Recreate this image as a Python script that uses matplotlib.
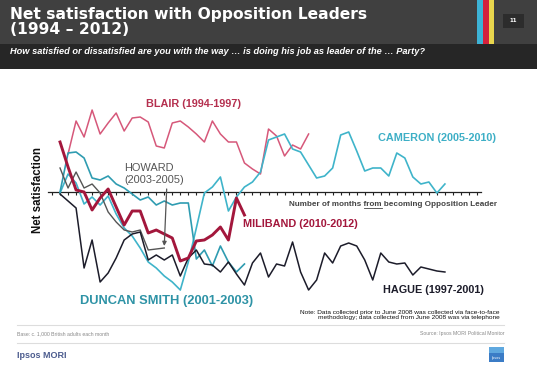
import matplotlib
matplotlib.use('Agg')
import matplotlib.pyplot as plt
from matplotlib.patches import Rectangle

# net satisfaction by month since becoming leader
blair_start = 1
blair = [19, 35.5, 27.5, 41, 29, 34.5, 39.5, 30.5, 37, 37.5, 35, 23, 22, 34.5, 35.5,
         32.5, 29, 25, 35.5, 29, 25, 25, 14.5, 11.5, 9, 31.5, 28, 18, 23.5, 21.5, 29]
cameron = [-0.5, 9, 4.5, -6, -2.5, -6.5, -2, -11, -18, -22, -28, -35, -38, -42, -45,
           -49, -35, -18, -0.5, 2.5, 7.5, -9.5, -2.5, 2.5, 5, 10, 26, 27.5, 29, 21.5,
           20, 13.5, 7, 8, 12, 28.5, 30, 20.5, 10.5, 12, 12, 8, 19.5, 17, 7.5, 4, 5,
           -0.5, 4]
duncan_smith = [0, 19.5, 20, 17, 7, 6, 8, 4, 2, -1, -4, -2.5, -6.5, -4.5, -6.5, -5.5,
                -5.5, -33.5, -29, -37, -27, -35, -40, -36]
miliband = [25, 12.5, 1, 0, -9, -3, 1.5, -7.5, -16.5, -9.5, -9.5, -20.5, -19, -21, -23,
            -34.5, -33, -24.5, -24, -21.5, -17.5, -24, -3, -11.5]
howard = [12, 2, 10, 2, 4, -0.5, -10, -15, -19, -20, -19, -29, -28.5, -28]
hague = [-1, -4.5, -8, -38, -24, -45, -40.5, -33, -24, -21, -20, -34, -31.5, -34, -31.5,
         -42, -33, -29, -36, -36.5, -40, -35, -41, -46.5, -35.5, -30.5, -42.5, -36, -37,
         -25, -40, -49, -44, -30.5, -35.5, -27, -25.5, -27, -34, -44, -30.5, -35, -36,
         -35.5, -41.5, -37.5, -38.5, -39.5, -40]

W, H = 537, 371
fig = plt.figure(figsize=(W / 100, H / 100), dpi=100)
fig.patch.set_facecolor('white')

# page furniture in pixel coordinates
bg = fig.add_axes([0, 0, 1, 1])
bg.set_xlim(0, W)
bg.set_ylim(H, 0)
bg.axis('off')
bg.add_patch(Rectangle((0, 0), W, 44, color='#404040', lw=0))
bg.add_patch(Rectangle((0, 44), W, 25, color='#262626', lw=0))
for x0, c in [(477, '#3DB3D6'), (483, '#D4213D'), (488.5, '#E9D64D')]:
    bg.add_patch(Rectangle((x0, 0), 5.5, 44, color=c, lw=0))
bg.add_patch(Rectangle((503, 14), 21, 14, color='#2C2C2C', lw=0))
bg.text(513.5, 21, '11', color='white', fontsize=4, ha='center', va='center',
        fontweight='bold')
bg.text(10, 22, 'Net satisfaction with Opposition Leaders\n(1994 \u2013 2012)',
        color='white', fontsize=11.2, fontweight='bold', family='DejaVu Sans',
        va='center', ha='left', linespacing=1.0)
bg.text(10, 52, 'How satisfied or dissatisfied are you with the way \u2026 is doing '
        'his job as leader of the \u2026 Party?', color='white', fontsize=6.7,
        fontstyle='italic', fontweight='bold', family='Liberation Sans', va='center')

# chart
ax = fig.add_axes([48 / W, (H - 305) / H, 433 / W, 210 / H])
ax.patch.set_alpha(0)
ax.set_xlim(-1.5, 52.5)
ax.set_ylim(-56.5, 48.5)
for s in ['left', 'right', 'top']:
    ax.spines[s].set_visible(False)
ax.spines['bottom'].set_position(('data', 0))
ax.spines['bottom'].set_color('#222222')
ax.spines['bottom'].set_linewidth(0.9)
ax.set_xticks(range(-1, 53))
ax.set_xticklabels([])
ax.set_yticks([])
ax.tick_params(axis='x', direction='out', length=2.5, width=0.8, colors='#222222')

def months(vals, start=0):
    return list(range(start, start + len(vals)))

ax.plot(months(blair, blair_start), blair, color='#D6587A', lw=1.1, zorder=3)
ax.plot(months(cameron), cameron, color='#3FB4CA', lw=1.2, zorder=3)
ax.plot(months(duncan_smith), duncan_smith, color='#2F9CB1', lw=1.2, zorder=3)
ax.plot(months(howard), howard, color='#555555', lw=1.0, zorder=4)
ax.plot(months(hague), hague, color='#1C1C2A', lw=1.1, zorder=4)
ax.plot(months(miliband), miliband, color='#A3173C', lw=2.1, zorder=5)

ax.annotate('', xy=(len(howard) - 1, howard[-1] + 1), xytext=(len(howard) - 0.7, 1.5),
            arrowprops=dict(arrowstyle='-|>', color='#555555', lw=0.9,
                            mutation_scale=6, shrinkA=0, shrinkB=0), zorder=6)

# series labels
lab = dict(fontsize=7.8, fontweight='bold', family='Liberation Sans', va='center')
bg.text(146, 104, 'BLAIR (1994-1997)', color='#B5304F', **lab)
bg.text(378, 138, 'CAMERON (2005-2010)', color='#3DAFC6', **lab)
bg.text(243, 224, 'MILIBAND (2010-2012)', color='#A3173C', **lab)
bg.text(383, 290, 'HAGUE (1997-2001)', color='#1C1C2A', **lab)
lab['fontsize'] = 9.3
bg.text(80, 301, 'DUNCAN SMITH (2001-2003)', color='#2E93A6', **lab)
bg.text(124, 174, 'HOWARD\n(2003-2005)', color='#555555', fontsize=7.9,
        family='Liberation Sans', va='center', ha='left', linespacing=1.2)
bg.text(38, 190, 'Net satisfaction', rotation=90, color='#111111', fontsize=8.3,
        fontweight='bold', family='Liberation Sans', va='center', ha='center')

xl = dict(fontsize=5.85, fontweight='bold', family='Liberation Sans', color='#444444',
          va='center')
bg.text(289, 204, 'Number of months from becoming Opposition Leader', **xl)
r = fig.canvas.get_renderer()
t1 = bg.text(0, 100, 'Number of months from', **xl)
t2 = bg.text(0, 100, 'from', **xl)
w_pre = t1.get_window_extent(r).width
w_from = t2.get_window_extent(r).width
t1.remove()
t2.remove()
bg.plot([289 + w_pre - w_from, 289 + w_pre], [207.8, 207.8], color='#444444', lw=0.6)

bg.text(500, 315, 'Note: Data collected prior to June 2008 was collected via face-to-face\n'
        'methodology; data collected from June 2008 was via telephone',
        fontsize=4.65, family='Liberation Sans', color='#111111', ha='right',
        va='center', linespacing=0.85)

# footer
bg.plot([17, 504], [325, 325], color='#DDDDDD', lw=0.8)
bg.plot([17, 504], [343, 343], color='#DDDDDD', lw=0.8)
bg.text(17, 334, 'Base: c. 1,000 British adults each month', fontsize=3.7,
        family='Liberation Sans', color='#888888', va='center')
bg.text(504, 334, 'Source: Ipsos MORI Political Monitor', fontsize=3.7,
        family='Liberation Sans', color='#888888', va='center', ha='right')
bg.text(17, 355, 'Ipsos MORI', fontsize=6.5, fontweight='bold', family='Liberation Sans',
        color='#4C5C8E', va='center')
bg.add_patch(Rectangle((489, 347), 15, 15, color='#3B7CC6', lw=0))
bg.add_patch(Rectangle((489, 347), 15, 6, color='#5FA8DF', lw=0))
bg.text(496.5, 358, 'Ipsos', fontsize=2.5, color='white', ha='center', va='center')

fig.savefig('out.png', dpi=100)
